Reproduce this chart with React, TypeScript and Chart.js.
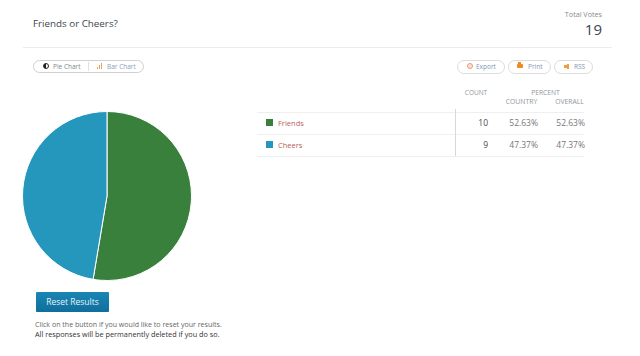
import React, { useEffect, useRef } from "react";
import { Chart, registerables } from "chart.js";

Chart.register(...registerables);

const categories = ["Friends", "Cheers"];
const counts = [10, 9];
const countryPct = ["52.63%", "47.37%"];
const overallPct = ["52.63%", "47.37%"];
const colors = ["#38803c", "#2596bc"];
const totalVotes = 19;

const font = '"Open Sans", sans-serif';

const abs = (x: number, y: number, extra: React.CSSProperties = {}): React.CSSProperties => ({
  position: "absolute",
  left: x,
  top: y,
  whiteSpace: "nowrap",
  ...extra,
});

export default function App() {
  const ref = useRef<HTMLCanvasElement>(null);
  useEffect(() => {
    const chart = new Chart(ref.current!, {
      type: "pie",
      data: {
        labels: categories,
        datasets: [{ data: counts, backgroundColor: colors, borderColor: "#ffffff", borderWidth: 1 }],
      },
      options: {
        animation: false,
        responsive: false,
        layout: { padding: 0 },
        plugins: { legend: { display: false }, tooltip: { enabled: false } },
      },
    });
    return () => chart.destroy();
  }, []);

  const rows = [123, 145];
  const pills: [number, number, string, number][] = [
    [457, 48, "Export", 476],
    [508, 43, "Print", 528],
    [554, 39, "RSS", 574],
  ];
  return (
    <div style={{ position: "fixed", left: 0, top: 0, width: 640, height: 356, background: "#fff", fontFamily: font, overflow: "hidden" }}>
      <div style={abs(33, 17, { fontSize: 9.8, lineHeight: "14px", color: "#3c444c" })}>Friends or Cheers?</div>
      <div style={abs(540, 9, { width: 62, textAlign: "right", fontSize: 7.2, lineHeight: "10px", color: "#8a8a8a" })}>Total Votes</div>
      <div style={abs(540, 20, { width: 62, textAlign: "right", fontSize: 15, lineHeight: "18px", color: "#3c444c" })}>{totalVotes}</div>
      <div style={abs(23, 47, { width: 589, height: 1, background: "#ececec" })} />

      <div style={abs(33, 60, { width: 109, height: 11, border: "1px solid #d0d0d0", borderRadius: 7 })} />
      <div style={abs(43, 63, { width: 6, height: 6, borderRadius: 3, background: "linear-gradient(90deg,#222 50%,#fff 50%)", border: "0.5px solid #222", boxSizing: "border-box" })} />
      <div style={abs(53, 61, { fontSize: 6.5, lineHeight: "12px", color: "#7b8790" })}>Pie Chart</div>
      <div style={abs(88, 62, { width: 1, height: 9, background: "#e0e0e0" })} />
      <div style={abs(97, 67, { width: 1, height: 2, background: "#f0a050" })} />
      <div style={abs(99, 65, { width: 1, height: 4, background: "#f0a050" })} />
      <div style={abs(101, 63, { width: 1, height: 6, background: "#f0a050" })} />
      <div style={abs(107, 61, { fontSize: 6.5, lineHeight: "12px", color: "#8aa0b8" })}>Bar Chart</div>

      {pills.map(([x, w, label, tx]) => (
        <React.Fragment key={label}>
          <div style={abs(x, 60, { width: w - 2, height: 12, border: "1px solid #dcdcdc", borderRadius: 7 })} />
          <div style={abs(tx, 61, { fontSize: 6.5, lineHeight: "12px", color: "#8496b0" })}>{label}</div>
        </React.Fragment>
      ))}
      <div style={abs(467, 63, { width: 6, height: 6, border: "1px solid #ee9a7a", borderRadius: 4, boxSizing: "border-box", background: "#fbe3d8" })} />
      <div style={abs(518, 62, { width: 3, height: 2, background: "#f08a1e" })} />
      <div style={abs(517, 64, { width: 6, height: 4, background: "#f08a1e", borderRadius: 1 })} />
      <div style={abs(564, 65, { width: 3, height: 3, background: "#f0a040" })} />
      <div style={abs(567, 64, { width: 2, height: 5, background: "#f0a040" })} />

      <div style={abs(459, 88, { width: 34, textAlign: "center", fontSize: 6.5, lineHeight: "10px", color: "#8f979c" })}>COUNT</div>
      <div style={abs(523, 88, { width: 45, textAlign: "center", fontSize: 6.7, lineHeight: "10px", color: "#8f979c" })}>PERCENT</div>
      <div style={abs(499, 97, { width: 45, textAlign: "center", fontSize: 6.8, lineHeight: "10px", color: "#8f979c" })}>COUNTRY</div>
      <div style={abs(547, 97, { width: 45, textAlign: "center", fontSize: 6.8, lineHeight: "10px", color: "#8f979c" })}>OVERALL</div>

      <div style={abs(257, 112, { width: 327, height: 1, background: "#efefef" })} />
      <div style={abs(257, 134, { width: 327, height: 1, background: "#efefef" })} />
      <div style={abs(257, 156, { width: 327, height: 1, background: "#efefef" })} />
      <div style={abs(455, 109, { width: 1, height: 47, background: "#d8d8d8" })} />

      {categories.map((c, i) => (
        <React.Fragment key={c}>
          <div style={abs(266, rows[i] - 4, { width: 7, height: 7, background: colors[i] })} />
          <div style={abs(278, rows[i] - 6, { fontSize: 7.5, lineHeight: "12px", color: "#b9605a" })}>{c}</div>
          <div style={abs(458, rows[i] - 7, { width: 30, textAlign: "right", fontSize: 8.5, lineHeight: "14px", color: "#4a4a4a" })}>{counts[i]}</div>
          <div style={abs(495, rows[i] - 7, { width: 43, textAlign: "right", fontSize: 8.5, lineHeight: "14px", color: "#777" })}>{countryPct[i]}</div>
          <div style={abs(542, rows[i] - 7, { width: 43, textAlign: "right", fontSize: 8.5, lineHeight: "14px", color: "#777" })}>{overallPct[i]}</div>
        </React.Fragment>
      ))}

      <div style={{ position: "absolute", left: 22, top: 111, width: 170, height: 170 }}>
        <canvas ref={ref} width={170} height={170} style={{ display: "block", width: 170, height: 170 }} />
      </div>

      <div style={abs(36, 292, { width: 73, height: 20, background: "linear-gradient(#1a86b4,#0f6f9c)", borderRadius: 1, color: "#e8f2f6", fontSize: 8.5, lineHeight: "20px", textAlign: "center" })}>Reset Results</div>
      <div style={abs(35, 319, { fontSize: 7.05, lineHeight: "11px", color: "#666" })}>Click on the button if you would like to reset your results.</div>
      <div style={abs(35, 329, { fontSize: 7.3, lineHeight: "11px", color: "#333" })}>All responses will be permanently deleted if you do so.</div>
    </div>
  );
}
